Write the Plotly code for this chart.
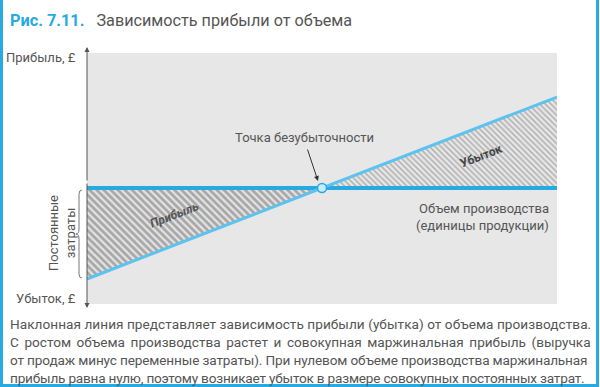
import plotly.graph_objects as go

# ---- data ----
volume = [0, 50, 100]            # production volume (units)
contribution = [-100, 0, 100]    # profit / loss line
zero_line = [0, 0, 0]            # volume axis (profit = 0)
break_even_x = [50]
break_even_y = [0]
profit_tri_x = [0, 50, 0]
profit_tri_y = [0, 0, -100]
loss_tri_x = [50, 100, 100]
loss_tri_y = [0, 0, 100]

W, H = 600, 387
L, R, T, B = 87, 557, 53, 304

def xp(px):
    return (px - L) / (R - L)

def yp(py):
    return (B - py) / (B - T)

BLUE = "#27a9e1"
TXT = "#555555"
FONT = "Roboto"

fig = go.Figure()

fig.add_trace(go.Scatter(
    x=profit_tri_x, y=profit_tri_y, fill="toself", mode="none",
    fillcolor="rgba(0,0,0,0)",
    fillpattern=dict(shape="\\", fgcolor="#6a6a6a", bgcolor="#e4e4e4", size=5, solidity=0.55),
    hoverinfo="skip", showlegend=False))
fig.add_trace(go.Scatter(
    x=loss_tri_x, y=loss_tri_y, fill="toself", mode="none",
    fillcolor="rgba(0,0,0,0)",
    fillpattern=dict(shape="\\", fgcolor="#7c7c7c", bgcolor="#e8e8e8", size=4, solidity=0.4),
    hoverinfo="skip", showlegend=False))
fig.add_trace(go.Scatter(
    x=volume, y=zero_line, mode="lines",
    line=dict(color=BLUE, width=4), hoverinfo="skip", showlegend=False))
fig.add_trace(go.Scatter(
    x=[volume[0], volume[-1]], y=[contribution[0], contribution[-1]], mode="lines",
    line=dict(color="#5cc2ee", width=3), hoverinfo="skip", showlegend=False))
fig.add_trace(go.Scatter(
    x=break_even_x, y=break_even_y, mode="markers",
    marker=dict(size=9, color="#c8ecfb", line=dict(color=BLUE, width=1.5)),
    hoverinfo="skip", showlegend=False))

ann = []

def text(px, py, s, size=13, color=TXT, xanchor="center", yanchor="middle", angle=0, family=FONT):
    ann.append(dict(x=xp(px), y=yp(py), xref="paper", yref="paper", text=s, showarrow=False,
                    xanchor=xanchor, yanchor=yanchor, textangle=angle,
                    font=dict(size=size, color=color, family=family)))

# title
text(8, 21, "<b><span style='color:%s;font-size:16.3px'>Рис. 7.11.</span></b>&nbsp;&nbsp;&nbsp;Зависимость прибыли от объема" % BLUE,
     size=16.2, xanchor="left")

# axis labels
text(78, 58, "Прибыль, £", xanchor="right")
text(78, 298, "Убыток, £", xanchor="right")
text(62, 233, "Постоянные<br>затраты", angle=-90)

# in-chart labels
text(304, 137, "Точка безубыточности")
text(551, 208, "Объем производства", xanchor="right")
text(551, 225, "(единицы продукции)", xanchor="right")
text(174, 215, "<b><i>Прибыль</i></b>", size=12, color="#555555", angle=-21)
text(481, 156, "<b>Убыток</b>", size=12, color="#444444", angle=-21)

# caption
caption = [
    "Наклонная линия представляет зависимость прибыли (убытка) от объема производства.",
    "С ростом объема производства растет и совокупная маржинальная прибыль (выручка",
    "от продаж минус переменные затраты). При нулевом объеме производства маржинальная",
    "прибыль равна нулю, поэтому возникает убыток в размере совокупных постоянных затрат.",
]
caption_style = [
    "letter-spacing:0.05px",
    "word-spacing:2.2px",
    "letter-spacing:-0.14px",
    "letter-spacing:-0.2px",
]
for i, line in enumerate(caption):
    text(8, 323.5 + i * 18.2, "<span style='%s'>%s</span>" % (caption_style[i], line),
         size=13.6, xanchor="left")

# break-even arrow
ann.append(dict(x=xp(318), y=yp(181), xref="paper", yref="paper", text="", showarrow=True,
                ax=-11, ay=-33, arrowhead=2, arrowsize=1, arrowwidth=1, arrowcolor="#333333"))
# vertical axis arrows
ann.append(dict(x=xp(87), y=yp(47), xref="paper", yref="paper", text="", showarrow=True,
                ax=0, ay=135, arrowhead=2, arrowsize=1, arrowwidth=1, arrowcolor="#555555"))
ann.append(dict(x=xp(87), y=yp(308), xref="paper", yref="paper", text="", showarrow=True,
                ax=0, ay=-126, arrowhead=2, arrowsize=1, arrowwidth=1, arrowcolor="#555555"))

shapes = []
# blue frame
shapes.append(dict(type="rect", xref="paper", yref="paper",
                   x0=xp(1.5), x1=xp(597.5), y0=yp(385.5), y1=yp(-5),
                   line=dict(color=BLUE, width=3), fillcolor="rgba(0,0,0,0)", layer="above"))
# brace
def P(px, py):
    return "%f,%f" % (xp(px), yp(py))
brace = ("M " + P(82, 190) + " Q " + P(79, 190) + " " + P(79, 194) +
         " L " + P(79, 229) + " Q " + P(79, 234) + " " + P(76, 234) +
         " Q " + P(79, 234) + " " + P(79, 239) +
         " L " + P(79, 274) + " Q " + P(79, 278) + " " + P(82, 278))
shapes.append(dict(type="path", xref="paper", yref="paper", path=brace,
                   line=dict(color="#777777", width=1)))

fig.update_layout(
    width=W, height=H,
    margin=dict(l=L, r=W - R, t=T, b=H - B, autoexpand=False),
    paper_bgcolor="white", plot_bgcolor="#e7e7e7",
    xaxis=dict(range=[0, 100], visible=False, fixedrange=True),
    yaxis=dict(range=[-127.5, 148.4], visible=False, fixedrange=True),
    annotations=ann, shapes=shapes,
    showlegend=False,
)

fig.write_html("out.html", config={"displayModeBar": False})
